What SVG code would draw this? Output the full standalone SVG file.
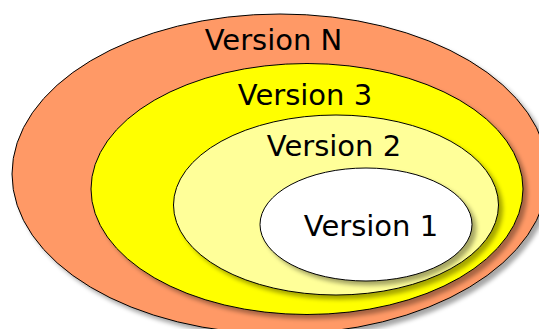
<svg xmlns="http://www.w3.org/2000/svg" width="539" height="329" viewBox="0 0 539 329">
<style>
.e{stroke:#000;stroke-width:1;filter:url(#sh)}
.t{font-family:"DejaVu Sans",sans-serif;font-size:29px;fill:#000;text-anchor:middle}
</style>
<defs>
<filter id="sh" x="-10%" y="-10%" width="125%" height="125%">
<feDropShadow dx="4" dy="4" stdDeviation="2" flood-color="#000" flood-opacity="0.35"/>
</filter>
</defs>
<rect width="539" height="329" fill="#fff"/>
<g id="versionN">
<ellipse class="e" cx="280" cy="174" rx="268" ry="160" fill="#FF9966"/>
<text class="t" x="273.5" y="50">Version N</text>
</g>
<g id="version3">
<ellipse class="e" cx="307" cy="189" rx="216" ry="125.5" fill="#FFFF00"/>
<text class="t" x="305" y="105">Version 3</text>
</g>
<g id="version2">
<ellipse class="e" cx="336" cy="205" rx="162.5" ry="90" fill="#FFFF99"/>
<text class="t" x="334" y="155.5">Version 2</text>
</g>
<g id="version1">
<ellipse class="e" cx="366" cy="224.5" rx="106" ry="56.5" fill="#FFFFFF"/>
<text class="t" x="371" y="235.5">Version 1</text>
</g>
<g id="connectors"/>
</svg>
